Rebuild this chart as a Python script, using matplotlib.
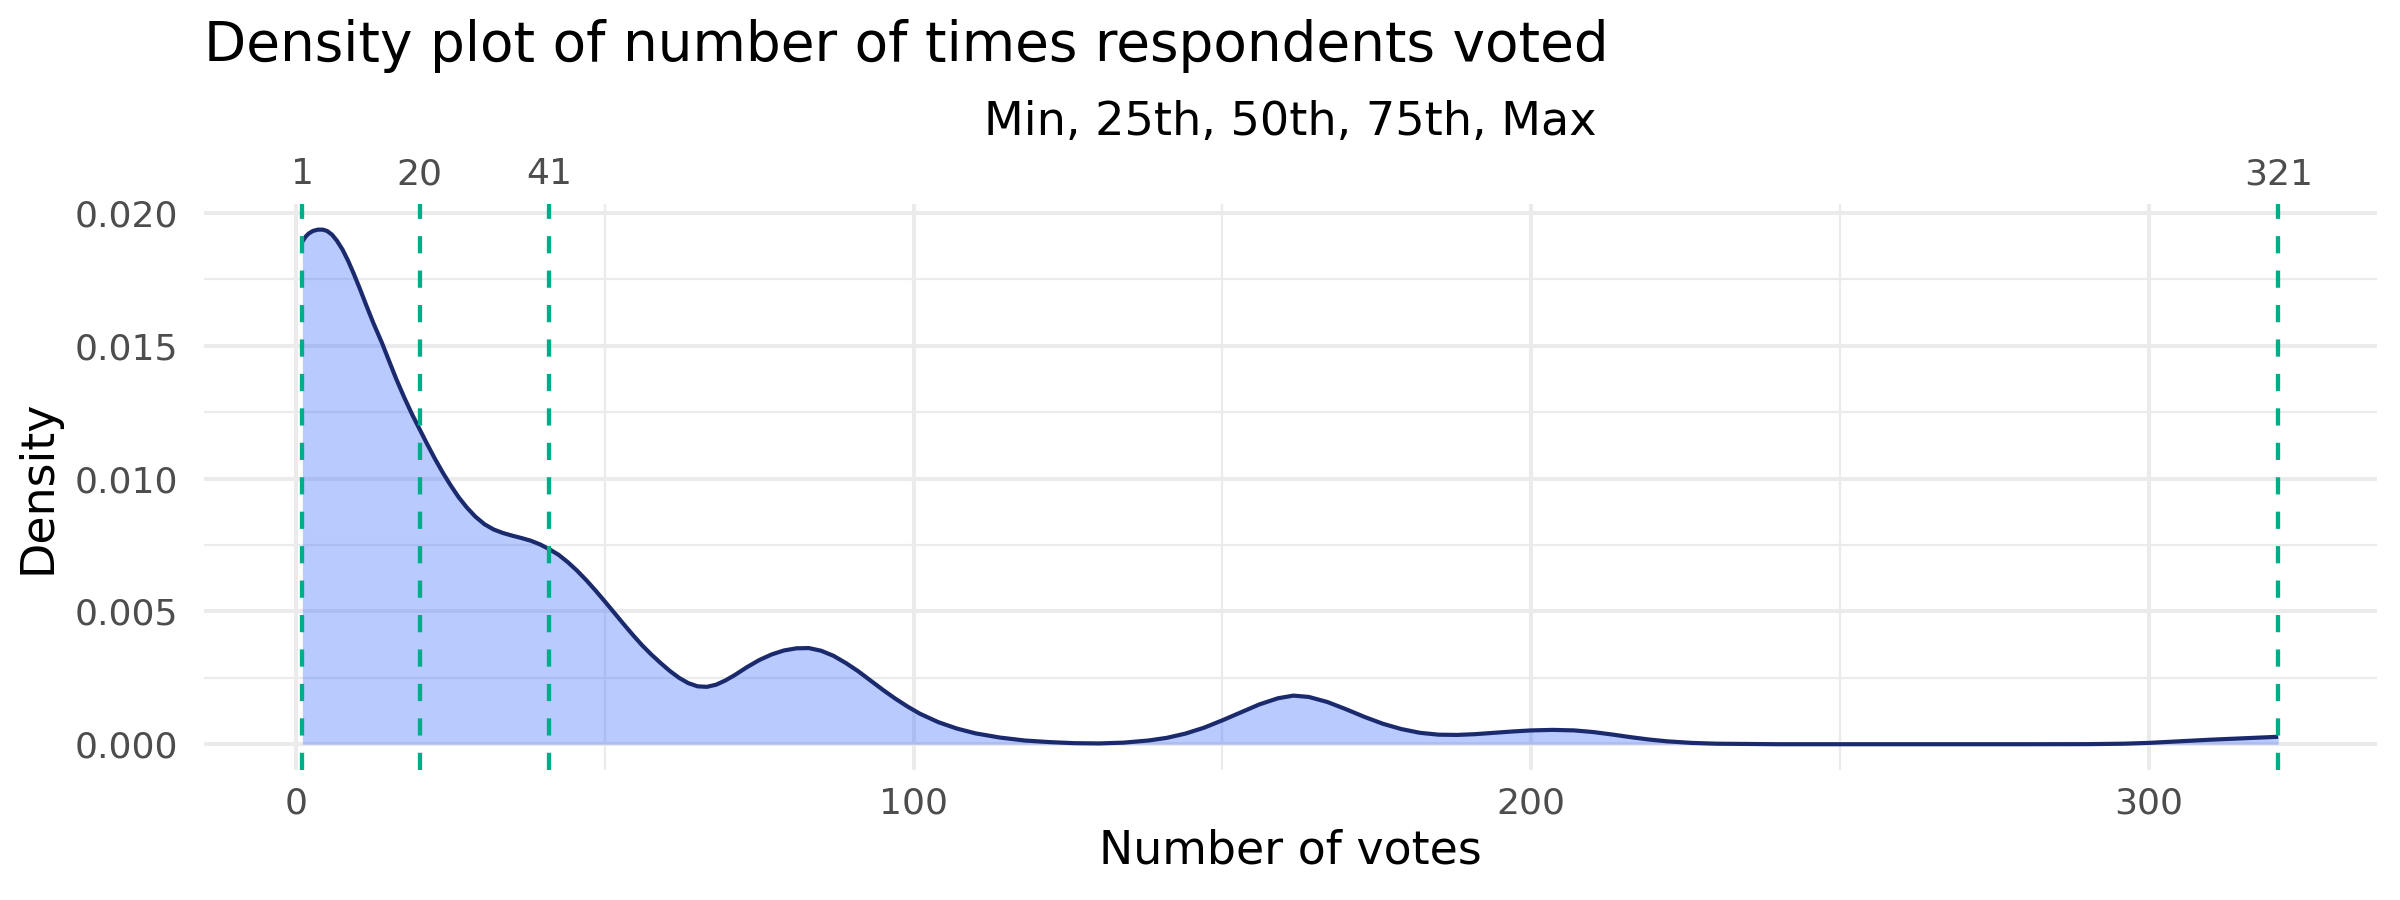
import matplotlib
matplotlib.use("Agg")
import matplotlib.pyplot as plt
from matplotlib.ticker import MultipleLocator, FormatStrFormatter

# ---- data ----
votes_x = [1, 1.5, 2, 2.7, 3.5, 4.3, 5, 5.8, 6.6, 7.5, 8.4, 9.3, 10.3, 11.3, 12.5,
           13.9, 15, 16.2, 17.5, 18.8, 20, 21.2, 22.5, 23.8, 25, 26.3, 27.6, 29,
           30.5, 32, 33.5, 35, 36.5, 38, 39.5, 41, 42.5, 44, 45.5, 47, 48.5, 50,
           51.5, 53, 54.5, 56, 57.5, 59, 60.5, 62, 63.5, 65, 66.5, 68, 69.5, 71,
           73, 75, 77, 79, 81, 83, 85, 87, 89, 91, 93, 95, 97, 99, 101, 104, 107,
           110, 114, 118, 122, 126, 130, 134, 138, 141, 144, 147, 150, 153, 156,
           159, 161.5, 164, 167, 170, 173, 176, 179, 182, 185, 188, 191, 194, 197,
           200, 203.5, 207, 210, 213, 216, 219, 222, 226, 230, 240, 260, 280, 290,
           296, 300, 305, 310, 315, 321]
density_y = [0.01892, 0.01910, 0.01922, 0.01932, 0.01937, 0.01937, 0.01932, 0.01918,
             0.01895, 0.01862, 0.01820, 0.01772, 0.01715, 0.01655, 0.01585, 0.01510,
             0.01445, 0.01375, 0.01305, 0.01240, 0.01185, 0.01130, 0.01073, 0.01020,
             0.00975, 0.00930, 0.00892, 0.00857, 0.00828, 0.00808, 0.00795, 0.00785,
             0.00776, 0.00766, 0.00752, 0.00734, 0.00713, 0.00685, 0.00653, 0.00617,
             0.00578, 0.00537, 0.00495, 0.00453, 0.00412, 0.00373, 0.00338, 0.00306,
             0.00276, 0.00250, 0.00230, 0.00218, 0.00216, 0.00224, 0.00240, 0.00260,
             0.00290, 0.00317, 0.00338, 0.00353, 0.00361, 0.00362, 0.00352, 0.00333,
             0.00306, 0.00275, 0.00240, 0.00205, 0.00172, 0.00142, 0.00115, 0.00083,
             0.00059, 0.00041, 0.00025, 0.00014, 0.00008, 0.00004, 0.00003, 0.00006,
             0.00014, 0.00024, 0.00040, 0.00062, 0.00090, 0.00120, 0.00150, 0.00173,
             0.00183, 0.00178, 0.00159, 0.00132, 0.00103, 0.00077, 0.00057, 0.00043,
             0.00036, 0.00035, 0.00038, 0.00043, 0.00048, 0.00052, 0.00054, 0.00052,
             0.00046, 0.00037, 0.00027, 0.00018, 0.00011, 0.00005, 0.00002, 0.0, 0.0,
             0.0, 0.000003, 0.00002, 0.00005, 0.00011, 0.00017, 0.00022, 0.00028]
quantile_values = [1, 20, 41, 321]
quantile_labels = ["1", "20", "41", "321"]
x_ticks = [0, 100, 200, 300]
y_ticks = [0.000, 0.005, 0.010, 0.015, 0.020]

title = "Density plot of number of times respondents voted"
subtitle = "Min, 25th, 50th, 75th, Max"
xlabel = "Number of votes"
ylabel = "Density"

# ---- styling ----
plt.rcParams['font.family'] = ['DejaVu Sans']
GRID = '#EBEBEB'
TICKC = '#4D4D4D'

fig = plt.figure(figsize=(24, 9), dpi=100)
ax = fig.add_axes([203.6 / 2400, 130 / 900, (2377 - 203.6) / 2400, (770 - 203.6) / 900])

ax.fill_between(votes_x, density_y, 0, color='#3366FF', alpha=0.34, lw=0, zorder=2)
ax.plot(votes_x, density_y, color='#1A2A6C', lw=3.0, solid_capstyle='butt',
        solid_joinstyle='round', zorder=3)
for q in quantile_values:
    ax.axvline(q, color='#00AD88', lw=3.1, linestyle=(0, (4, 4)), zorder=4)

ax.set_xlim(-15, 337)
ax.set_ylim(-0.00097, 0.02035)
ax.set_xticks(x_ticks)
ax.set_yticks(y_ticks)
ax.xaxis.set_minor_locator(MultipleLocator(50))
ax.yaxis.set_minor_locator(MultipleLocator(0.0025))
ax.yaxis.set_major_formatter(FormatStrFormatter('%.3f'))

ax.grid(which='major', color=GRID, lw=2.9, zorder=0)
ax.grid(which='minor', color=GRID, lw=1.6, zorder=0)
ax.set_axisbelow(True)
for s in ax.spines.values():
    s.set_visible(False)

ax.tick_params(axis='both', which='both', length=0, labelsize=26, labelcolor=TICKC)
ax.tick_params(axis='x', pad=12)
ax.tick_params(axis='y', pad=18)

sec = ax.secondary_xaxis('top')
sec.set_xticks(quantile_values)
sec.set_xticklabels(quantile_labels)
sec.tick_params(length=0, labelsize=26, labelcolor=TICKC, pad=9)
for s in sec.spines.values():
    s.set_visible(False)

ax.set_xlabel(xlabel, fontsize=33, color='black', va='center')
ax.xaxis.set_label_coords(0.5, (770 - 851) / 566.4)
ax.set_ylabel(ylabel, fontsize=33, color='black', va='center')
ax.yaxis.set_label_coords((38 - 203.6) / 2173.4, 0.5)

fig.text(203.6 / 2400, 1 - 46 / 900, title, fontsize=39.5, color='black',
         ha='left', va='center')
fig.text(1290 / 2400, 1 - 122 / 900, subtitle, fontsize=33.2, color='black',
         ha='center', va='center')

fig.savefig('out.png', dpi=100)
